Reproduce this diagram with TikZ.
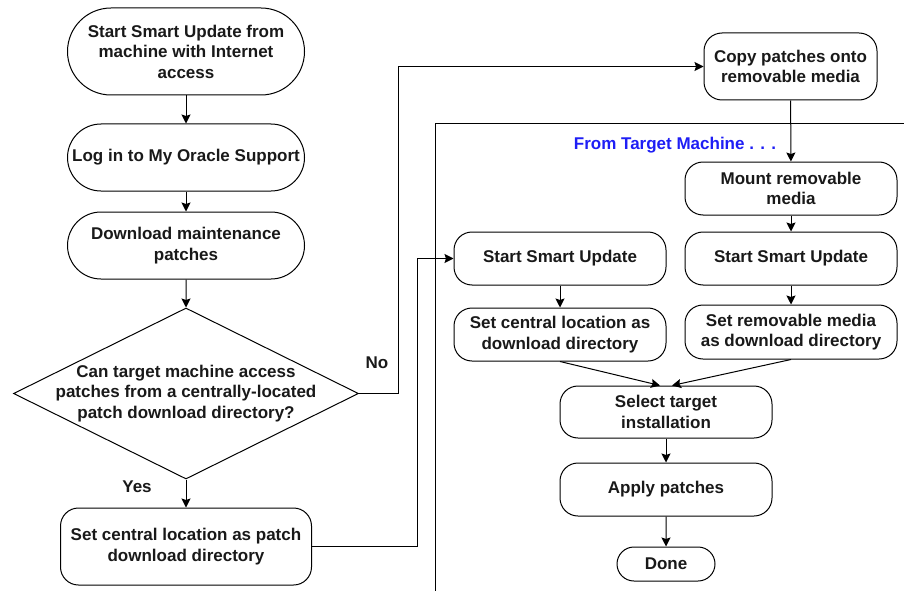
\documentclass[tikz,border=0pt]{standalone}
\usepackage{fontspec}
\setmainfont{Liberation Sans}
\usetikzlibrary{shapes.geometric,shapes.misc,arrows.meta}
\definecolor{targetblue}{RGB}{30,30,245}

\begin{document}
\begin{tikzpicture}[x=1pt,y=-1pt,>={Stealth[length=9pt,width=9pt,inset=1.5pt]},
  every node/.style={font=\fontsize{17}{20.5}\selectfont\bfseries, align=center, text=black!90},
  pill/.style={draw, rounded rectangle, line width=1pt, inner sep=2pt, minimum width=241pt},
  stepbox/.style={draw, rectangle, rounded corners=18pt, line width=1pt, inner sep=2pt, minimum width=212pt, minimum height=53pt},
  decision/.style={draw, diamond, aspect=2, line width=1pt, inner sep=-12pt, minimum width=345pt, minimum height=171pt},
  flow/.style={->, line width=1pt}]
\useasboundingbox (0,0) rectangle (904,591);

% from the machine with internet access
\node[pill, minimum height=87pt] (start) at (186,51.5) {Start Smart Update from\\machine with Internet\\access};
\node[pill, minimum height=67pt] (login) at (186,157.5) {Log in to My Oracle Support};
\node[pill, minimum height=67pt] (download) at (186,245.5) {Download maintenance\\patches};
\node[decision] (canaccess) at (186,393.5) {Can target machine access\\patches from a centrally-located\\patch download directory?};
\node[stepbox, minimum width=251pt, minimum height=77pt] (setpatch) at (186,546.5) {Set central location as patch\\download directory};
\node[stepbox, minimum width=173pt, minimum height=67pt] (copy) at (790.5,66.5) {Copy patches onto\\removable media};
\node (no) at (377,363) {No};
\node (yes) at (137,487) {Yes};

% from the target machine
\draw [line width=1pt] (904,124) -- (435,124) -- (435,591);
\node[text=targetblue] (fromtarget) at (675,145) {From Target Machine . . .};
\node[stepbox] (mount) at (791,188.5) {Mount removable\\media};
\node[stepbox] (startright) at (791,258.5) {Start Smart Update};
\node[stepbox] (startleft) at (560,258.5) {Start Smart Update};
\node[stepbox] (setleft) at (560,334.5) {Set central location as\\download directory};
\node[stepbox, minimum height=54pt] (setright) at (791,332) {Set removable media\\as download directory};
\node[stepbox, minimum height=52pt] (select) at (666,412) {Select target\\installation};
\node[stepbox] (apply) at (666,489.5) {Apply patches};
\node[pill, minimum width=102pt, minimum height=34pt] (done) at (666,564) {Done};

\draw [flow] (start) -- (login);
\draw [flow] (login) -- (download);
\draw [flow] (download) -- (canaccess);
\draw [flow] (canaccess) -- (setpatch);
\draw [flow] (canaccess.east) -- ++(39,0) |- (copy.west);
\draw [flow] (setpatch.east) -- ++(105,0) |- (startleft.west);
\draw [flow] (copy) -- (mount);
\draw [flow] (mount) -- (startright);
\draw [flow] (startright) -- (setright);
\draw [flow] (startleft) -- (setleft);
\draw [flow] (setleft.south) -- ([xshift=-6pt]select.north);
\draw [flow] (setright.south) -- ([xshift=6pt]select.north);
\draw [flow] (select) -- (apply);
\draw [flow] (apply) -- (done);
\end{tikzpicture}
\end{document}
